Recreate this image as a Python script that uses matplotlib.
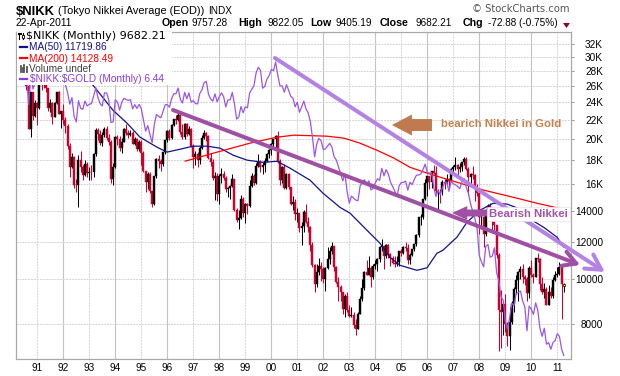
import numpy as np
import matplotlib
matplotlib.use("Agg")
import matplotlib.pyplot as plt
from matplotlib.patches import Rectangle, Polygon
from matplotlib.lines import Line2D

plt.rcParams['font.family'] = ['Liberation Sans', 'DejaVu Sans']

W, H, DPI = 620, 376, 100

# ---------------- data (monthly, Aug 1990 .. Apr 2011) ----------------
first_year, first_month = 1990, 8
prior_close = 31035          # Jul 1990 close (open of first bar)
last_open = 9757.28          # open of the current (Apr 2011) bar

closes = [
    25978, 20984, 25194, 22454, 23849,
    23293, 26409, 26292, 26111, 25790, 23291, 23900, 22335, 23916, 25222, 22687, 22984,
    22023, 21339, 19346, 17391, 18348, 15952, 15910, 18061, 17399, 16768, 17684, 16925,
    17024, 16953, 18592, 20920, 20552, 19591, 20380, 21027, 20106, 19703, 16407, 17417,
    20229, 19998, 19112, 19725, 20974, 20644, 20449, 20629, 19564, 19990, 19076, 19723,
    18650, 17053, 16140, 16807, 15437, 14517, 16678, 18117, 17913, 17655, 18744, 19868,
    20813, 20125, 21407, 22041, 21956, 22531, 20693, 20167, 21556, 20467, 21020, 19361,
    18330, 18557, 18003, 19151, 20069, 20605, 20331, 18229, 17888, 16459, 16636, 15259,
    16628, 16832, 16527, 15641, 15671, 15830, 16379, 14108, 13406, 13565, 14883, 13842,
    14499, 14368, 15837, 16702, 16112, 17530, 17862, 17437, 17605, 17942, 18558, 18934,
    19540, 19960, 20337, 17974, 16332, 17411, 15728, 16861, 15747, 14540, 14649, 13786,
    13844, 12884, 12999, 13934, 13262, 12969, 11861, 10713, 9775, 10367, 10697, 10543,
    9998, 10588, 11025, 11493, 11764, 10622, 9878, 9620, 9383, 8640, 9216, 8579,
    8340, 8363, 7973, 7831, 8425, 9083, 9563, 10344, 10219, 10560, 10101, 10677,
    10784, 11042, 11715, 11762, 11236, 11858, 11326, 11082, 10824, 10771, 10899, 11489,
    11388, 11741, 11669, 11009, 11277, 11584, 11900, 12414, 13574, 13607, 14872, 16111,
    16650, 16205, 17060, 16906, 15467, 15505, 15457, 16141, 16128, 16399, 16274, 17226,
    17383, 17604, 17288, 17400, 17876, 18138, 17249, 16569, 16786, 16737, 15681, 15308,
    13592, 13603, 12526, 13850, 14339, 13481, 13377, 13073, 11260, 8577, 8512, 8860,
    7994, 7568, 8110, 8828, 9523, 9958, 10357, 10493, 10133, 10035, 9346, 10546,
    10198, 10126, 11090, 11057, 9769, 9383, 9537, 8824, 9369, 9202, 9937, 10229,
    10238, 10624, 9755, 9682.21,
]
highs = [
    31600, 26500, 25300, 25300, 24300,
    24000, 26600, 27150, 26900, 26300, 25800, 24400, 24000, 24000, 25300, 25400, 23000,
    23800, 22300, 21500, 19600, 18700, 18400, 16400, 18500, 18900, 17600, 18000, 17900,
    17400, 17600, 18700, 21100, 21100, 20900, 20700, 21200, 21300, 20500, 19900, 17800,
    20300, 20400, 20300, 20100, 21100, 21500, 20900, 20900, 20800, 20200, 20100, 19900,
    19900, 18900, 17100, 17000, 17000, 15500, 16700, 18200, 18500, 18100, 18800, 19900,
    20900, 21000, 21500, 22100, 22500, 22750, 22600, 21500, 21700, 21700, 21300, 21100,
    19500, 18900, 18800, 19300, 20400, 20900, 20700, 20400, 18700, 18100, 17000, 16900,
    16800, 17350, 17100, 16700, 15800, 15900, 16800, 16400, 14200, 14100, 15200, 15000,
    14600, 14600, 16300, 16900, 16800, 17800, 18600, 18000, 17900, 18200, 18700, 19000,
    19600, 20000, 20400, 20833, 18100, 17500, 17700, 16900, 16900, 15800, 15100, 14900,
    14200, 13900, 13300, 14100, 14500, 13600, 13000, 12000, 10800, 10800, 11100, 10900,
    10600, 10600, 11700, 11700, 12000, 11800, 10700, 10100, 9700, 9400, 9300, 9400,
    8800, 8700, 8500, 8200, 8500, 9200, 10000, 10400, 11000, 11200, 10700, 10800,
    11000, 11100, 11800, 12200, 11800, 11900, 11900, 11400, 11200, 11200, 11200, 11500,
    11600, 11800, 12000, 11900, 11400, 11600, 11900, 12500, 13600, 13800, 14900, 16400,
    16700, 16700, 17100, 17600, 17500, 15600, 15600, 16300, 16400, 16800, 16500, 17300,
    17600, 18300, 17700, 17800, 17900, 18300, 18300, 17400, 16900, 17500, 16800, 16000,
    15400, 14000, 13700, 13900, 14500, 14600, 13700, 13500, 13100, 11400, 9500, 9000,
    9300, 8100, 8700, 9000, 9600, 10200, 10400, 10700, 10800, 10200, 10100, 10700,
    11000, 10300, 11100, 11400, 11100, 10100, 9800, 9600, 9700, 9600, 10100, 10400,
    10600, 10900, 10700, 9822.05,
]
lows = [
    25500, 20983, 20222, 22000, 22300,
    21400, 23200, 25500, 25700, 25300, 23000, 22900, 21500, 22300, 23800, 22600, 21100,
    21500, 20600, 19000, 16600, 17300, 15700, 15400, 14300, 17000, 16300, 16700, 16600,
    16300, 16300, 16600, 18400, 19900, 19400, 19300, 20200, 19900, 19400, 16100, 15900,
    17300, 19400, 18900, 18700, 19700, 20400, 20100, 20300, 19500, 19400, 18900, 18900,
    17600, 17000, 15400, 15600, 15300, 14300, 14400, 16500, 17300, 17100, 17500, 18600,
    19700, 19900, 20000, 21300, 21600, 21900, 20500, 20000, 20000, 20300, 20400, 19200,
    17300, 17600, 17400, 17700, 19000, 20000, 19800, 18100, 17500, 16300, 14800, 14700,
    14500, 16100, 16300, 15400, 15000, 14900, 15800, 14000, 13300, 12800, 13500, 13600,
    13200, 13800, 14300, 15800, 15900, 16000, 17400, 17000, 16800, 17000, 17900, 18200,
    18500, 19300, 19100, 17800, 15900, 16100, 15600, 15600, 15600, 14400, 14100, 13400,
    13300, 12600, 11820, 12600, 13200, 12600, 11500, 10600, 9380, 9600, 10200, 9900,
    9800, 9420, 10500, 10800, 11300, 10400, 9800, 9000, 9000, 8400, 8300, 8500,
    8300, 8300, 7860, 7600, 7800, 8400, 9000, 9500, 10200, 10200, 9600, 10000,
    10500, 10400, 10900, 11500, 10500, 11100, 11100, 10700, 10800, 10600, 10700, 10700,
    11200, 11300, 11500, 10800, 10800, 11200, 11500, 11800, 12300, 13100, 13500, 14800,
    15100, 15600, 15700, 16800, 15300, 14000, 14600, 15200, 15600, 15900, 15600, 16200,
    16900, 17200, 16600, 17000, 17100, 17600, 17200, 15200, 15800, 16400, 14700, 15100,
    12500, 12800, 11700, 12400, 13600, 13400, 12700, 12700, 11100, 6994, 7100, 7600,
    7700, 7200, 7054, 8000, 8500, 9300, 9000, 10000, 9800, 9700, 9000, 9100,
    10100, 9800, 10100, 10900, 9500, 9300, 9100, 8800, 8800, 9100, 9100, 9900,
    10100, 10200, 8227, 9405.19,
]
gold = [
    387, 408, 380, 384, 386,
    366, 362, 355, 357, 361, 368, 362, 347, 355, 358, 366, 353,
    354, 353, 341, 337, 337, 343, 357, 340, 349, 339, 334, 333,
    330, 327, 337, 354, 377, 378, 401, 371, 355, 369, 370, 391,
    378, 381, 389, 376, 387, 385, 384, 385, 394, 389, 383, 383,
    375, 376, 391, 389, 385, 387, 383, 382, 384, 383, 387, 387,
    405, 400, 396, 392, 390, 382, 385, 387, 379, 379, 371, 369,
    345, 358, 348, 340, 345, 334, 326, 325, 332, 311, 296, 290,
    303, 297, 301, 310, 293, 296, 288, 273, 294, 292, 294, 288,
    287, 287, 280, 286, 268, 262, 255, 255, 299, 300, 292, 290,
    284, 293, 278, 274, 272, 290, 276, 278, 272, 264, 270, 273,
    264, 267, 258, 263, 267, 270, 265, 273, 293, 279, 275, 277,
    282, 297, 302, 308, 326, 318, 304, 313, 323, 316, 318, 343,
    367, 347, 336, 336, 363, 346, 354, 375, 385, 386, 398, 416,
    401, 397, 426, 388, 394, 395, 391, 409, 415, 429, 453, 438,
    422, 435, 428, 435, 417, 437, 430, 433, 473, 470, 496, 513,
    568, 556, 583, 654, 643, 614, 634, 623, 600, 606, 649, 632,
    651, 665, 662, 679, 659, 650, 666, 673, 743, 790, 783, 834,
    924, 972, 934, 870, 888, 928, 912, 832, 880, 718, 814, 869,
    928, 942, 924, 888, 979, 927, 954, 955, 1001, 1040, 1182, 1088,
    1081, 1118, 1113, 1180, 1214, 1244, 1182, 1248, 1307, 1357, 1387, 1405,
    1328, 1409, 1439, 1503,
]

ma50_t = [1990.6, 1992.0, 1992.6, 1993.14, 1993.91, 1994.45, 1994.95, 1995.6, 1995.99, 1996.49,
          1996.99, 1997.53, 1998.03, 1998.53, 1999.07, 1999.68, 2000.22, 2000.72, 2001.49,
          2001.99, 2002.64, 2003.03, 2003.68, 2004.18, 2004.56, 2004.95, 2005.6, 2005.99,
          2006.37, 2006.6, 2007.14, 2007.53, 2008.03, 2008.53, 2009.07, 2009.57, 2010.03,
          2010.5, 2010.99, 2011.25]
ma50_v = [30500, 29500, 28000, 26120, 23070, 21640, 20190, 19220, 18750, 19020,
          19310, 19310, 19120, 18470, 18020, 17830, 17920, 17320, 16320,
          15300, 14270, 13860, 12740, 11950, 11150, 10710, 10450, 10580,
          11370, 11540, 12310, 13260, 14070, 14560, 14500, 14150, 13390,
          12900, 12310, 11719.86]

ma200_t = [1996.69, 1997.92, 1999.18, 2000.22, 2000.87, 2002.14, 2002.8, 2003.41, 2004.06,
           2004.72, 2005.33, 2005.99, 2006.87, 2008.18, 2009.45, 2010.22, 2011.25]
ma200_v = [17930, 18750, 19600, 20190, 20390, 20290, 20090, 19600, 18930,
           18200, 17400, 16900, 16320, 15530, 14930, 14560, 14128.49]

price_ticks = [8000, 10000, 12000, 14000, 16000, 18000, 20000, 22000, 24000, 26000, 28000, 30000, 32000]
price_labels = ['8000', '10000', '12000', '14000', '16K', '18K', '20K', '22K', '24K', '26K', '28K', '30K', '32K']
year_ticks = list(range(1991, 2012))
year_labels = ['%02d' % (y % 100) for y in year_ticks]

# ---------------- figure ----------------
fig = plt.figure(figsize=(W / DPI, H / DPI), dpi=DPI)
fig.patch.set_facecolor('white')

def fx(px):
    return px / W

def fy(py):
    return 1 - py / H

L, R, T, B = 16, 571, 31.5, 359.3
ax = fig.add_axes([fx(L), fy(B), (R - L) / W, (B - T) / H])
ax.set_yscale('log')
ax.set_xlim(1990.181, 2011.527)
ax.set_ylim(6729, 34050)

for yr in year_ticks:
    if yr % 2 == 0:
        ax.axvline(yr, color='#c2c2c2', lw=0.8, zorder=0)
    else:
        ax.axvline(yr, color='#d4d4d4', lw=0.7, ls=(0, (2, 1)), zorder=0)
for v in price_ticks:
    ax.axhline(v, color='#d4d4d4', lw=0.7, ls=(0, (2, 1)), zorder=0)

n = len(closes)
t = first_year + (first_month - 1) / 12 + np.arange(n) / 12
c = np.array(closes, float)
o = np.concatenate([[prior_close], c[:-1]])
o[-1] = last_open
h = np.maximum(np.array(highs, float), np.maximum(o, c))
l = np.minimum(np.array(lows, float), np.minimum(o, c))
prev = np.concatenate([[prior_close], c[:-1]])
cols = np.where(c >= prev, 'black', '#D0002E')

ax.vlines(t[:-1], l[:-1], h[:-1], colors=cols[:-1], lw=0.75, zorder=2)
bot = np.minimum(o, c)
top = np.maximum(o, c)
ax.bar(t[:-1], top[:-1] - bot[:-1], bottom=bot[:-1], width=0.075, color=cols[:-1],
       edgecolor=cols[:-1], lw=0.3, zorder=3)
# current (partial) month highlighted
ax.vlines(t[-1:], l[-1:], h[-1:], colors='black', lw=0.7, zorder=3)
ax.bar(t[-1:], top[-1:] - bot[-1:], bottom=bot[-1:], width=0.085, color='#FFFF00',
       edgecolor='black', lw=0.5, zorder=4)

ax.plot(ma50_t, ma50_v, color='#12128C', lw=0.9, zorder=4)
ax.plot(ma200_t, ma200_v, color='#FF0000', lw=0.9, zorder=4)

# ratio overlay on its own log scale
ax2 = ax.twinx()
ax2.set_yscale('log')
ax2.set_ylim(6.24, 94.2)
ax2.set_axis_off()
ratio = c / np.array(gold, float)
ax2.plot(t, ratio, color='#9A55E8', lw=0.9, zorder=2)

# axes styling (after twinx, which moves the ticks of ax to the left)
for s in ax.spines.values():
    s.set_color('#a8a8a8')
    s.set_linewidth(0.9)
ax.yaxis.tick_right()
ax.set_yticks(price_ticks)
ax.set_yticklabels(price_labels)
ax.yaxis.set_minor_locator(matplotlib.ticker.NullLocator())
ax.tick_params(axis='y', which='major', left=False, labelleft=False, right=True,
               labelright=True, length=2, width=0.7, color='#999999',
               pad=21.0, labelsize=7.2, labelcolor='black')
for tk in ax.yaxis.get_major_ticks():
    tk.label2.set_horizontalalignment('right')
ax.set_xticks(year_ticks)
ax.set_xticklabels(year_labels)
ax.xaxis.set_minor_locator(matplotlib.ticker.NullLocator())
ax.tick_params(axis='x', length=0, pad=3, labelsize=7.2)

# trend lines drawn by the chartist
ax2.annotate('', xy=(2012.83, 10364), xytext=(2000.14, 29870),
             xycoords=ax.transData, textcoords=ax.transData, annotation_clip=False,
             arrowprops=dict(arrowstyle='->,head_length=0.9,head_width=0.5', lw=2.9,
                             color='#B482E4', shrinkA=0, shrinkB=0, mutation_scale=12))
ax2.annotate('', xy=(2011.88, 10729), xytext=(1996.22, 23090),
             xycoords=ax.transData, textcoords=ax.transData, annotation_clip=False,
             arrowprops=dict(arrowstyle='->,head_length=0.8,head_width=0.45', lw=2.9,
                             color='#A050A4', shrinkA=0, shrinkB=0, mutation_scale=12))
# brown arrow
ax2.annotate('', xy=(2004.64, 21440), xytext=(2006.18, 21440),
             xycoords=ax.transData, textcoords=ax.transData, annotation_clip=False,
             arrowprops=dict(arrowstyle='simple,head_length=1.44,head_width=1.51,tail_width=0.86',
                             color='#C07A50', shrinkA=0, shrinkB=0, mutation_scale=10, lw=0))
ax2.plot([2005.1, 2006.15], [21440, 21440], color='#7d8ea0', lw=0.8, ls=(0, (1, 2)), zorder=6)
# plum arrow
ax2.annotate('', xy=(2006.95, 13875), xytext=(2008.4, 13875),
             xycoords=ax.transData, textcoords=ax.transData, annotation_clip=False,
             arrowprops=dict(arrowstyle='simple,head_length=1.1,head_width=1.0,tail_width=0.5',
                             color='#A050A4', shrinkA=0, shrinkB=0, mutation_scale=10, lw=0))

fig.text(fx(441), fy(127), 'bearich Nikkei in Gold', color='#C8804C', fontsize=8.2,
         fontweight='bold', ha='left', va='baseline')
fig.text(fx(489), fy(217), 'Bearish Nikkei', color='#A455A8', fontsize=8.2,
         fontweight='bold', ha='left', va='baseline', zorder=8,
         bbox=dict(boxstyle='square,pad=0.15', facecolor='white', edgecolor='#e8e0ee', lw=0.5))

# legend box
fig.patches.append(Rectangle((fx(17), fy(85)), (172 - 17) / W, (85 - 32.5) / H,
                             transform=fig.transFigure, facecolor='white',
                             edgecolor='none', zorder=5))
def fline(x0, x1, y0, y1, **kw):
    fig.lines.append(Line2D([fx(x0), fx(x1)], [fy(y0), fy(y1)], transform=fig.transFigure,
                            zorder=6, **kw))

# candle icon
fline(19.5, 19.5, 32.5, 38.5, color='black', lw=0.8)
fline(18.5, 20.5, 34, 34, color='black', lw=1.5)
fline(22.5, 22.5, 33, 39, color='black', lw=0.8)
fig.patches.append(Rectangle((fx(21.5), fy(37.5)), 2 / W, 3 / H, transform=fig.transFigure,
                             facecolor='white', edgecolor='black', lw=0.6, zorder=6))
fig.text(fx(26), fy(39), r'\$NIKK (Monthly) 9682.21', fontsize=8.0, family='DejaVu Sans',
         color='black', va='baseline', zorder=7)
fline(20, 27, 47, 47, color='#12128C', lw=1.6)
fig.text(fx(29), fy(50.5), 'MA(50) 11719.86', fontsize=7.3, color='#12128C',
         va='baseline', zorder=7)
fline(20, 27, 58, 58, color='#FF0000', lw=1.6)
fig.text(fx(29), fy(61.5), 'MA(200) 14128.49', fontsize=7.3, color='#FF0000',
         va='baseline', zorder=7)
for xx, y0 in [(20.5, 66), (22.5, 68), (24.5, 65), (26.5, 67)]:
    fline(xx, xx, y0, 72, color='#555555', lw=1.3)
fig.text(fx(29), fy(72.5), 'Volume undef', fontsize=7.3, color='#404040',
         va='baseline', zorder=7)
fline(20, 27, 79, 79, color='#8A3BE0', lw=1.6)
fig.text(fx(30), fy(82.5), r'\$NIKK:\$GOLD (Monthly) 6.44', fontsize=7.3, color='#8A3BE0',
         va='baseline', zorder=7)

# header
fig.text(fx(16), fy(15), r'\$NIKK', fontsize=9.4, fontweight='bold', va='baseline')
fig.text(fx(58), fy(14.5), '(Tokyo Nikkei Average (EOD))', fontsize=7.9, va='baseline')
fig.text(fx(208), fy(14.5), 'INDX', fontsize=7.2, va='baseline')
fig.text(fx(16), fy(26.5), '22-Apr-2011', fontsize=7.4, va='baseline')
pieces = [(162, 'Open', True), (191, '9757.28', False), (238, 'High', True),
          (267, '9822.05', False), (310, 'Low', True), (335, '9405.19', False),
          (380, 'Close', True), (415, '9682.21', False), (463, 'Chg', True),
          (488, '-72.88 (-0.75%)', False)]
for xx, s, b in pieces:
    fig.text(fx(xx), fy(26.5), s, fontsize=7.7 if b else 7.2,
             fontweight='bold' if b else 'normal', va='baseline')
fig.patches.append(Polygon([(fx(563), fy(23)), (fx(570), fy(23)), (fx(566.5), fy(28))],
                           closed=True, transform=fig.transFigure, facecolor='#8B0A2A',
                           edgecolor='none'))
fig.text(fx(569), fy(12), '\u00a9 StockCharts.com', fontsize=7.2, color='#555555',
         ha='right', va='baseline', family=['DejaVu Sans'])

fig.savefig('out.png', dpi=DPI, facecolor='white')
